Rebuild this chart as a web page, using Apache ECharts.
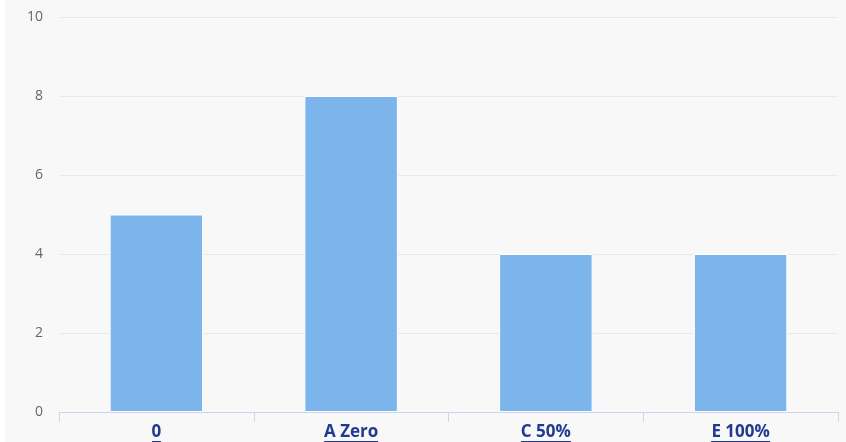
<!DOCTYPE html>
<html><head><meta charset="utf-8">
<script src="https://cdn.jsdelivr.net/npm/echarts@6/dist/echarts.min.js"></script>
<style>
html,body{margin:0;padding:0;background:#ffffff;}
#c{position:absolute;left:5px;top:0;width:841px;height:442px;}
</style></head>
<body><div id="c"></div>
<script>
const categories = ['0', 'A Zero', 'C 50%', 'E 100%'];
const values = [5, 8, 4, 4];
const yTicks = [0, 2, 4, 6, 8, 10];

// underline texture: transparent box with a line near its bottom
const ul = document.createElement('canvas');
ul.width = 4; ul.height = 22;
const g = ul.getContext('2d');
g.fillStyle = '#213a8f';
g.fillRect(0, 20, 4, 1);

const chart = echarts.init(document.getElementById('c'));
chart.setOption({
  backgroundColor: '#f8f8f8',
  animation: false,
  grid: { left: 54, right: 8, top: 17, bottom: 30, containLabel: false, outerBoundsMode: 'none' },
  xAxis: {
    type: 'category',
    data: categories,
    axisLine: { lineStyle: { color: '#ccd6eb' } },
    axisTick: { show: true, length: 10, lineStyle: { color: '#ccd6eb' } },
    axisLabel: {
      margin: 9,
      formatter: v => '{t|' + v + '}',
      rich: {
        t: { color: '#213a8f', fontSize: 17, fontWeight: 'bold', fontFamily: 'Open Sans',
             height: 22, lineHeight: 22, backgroundColor: { image: ul } }
      }
    }
  },
  yAxis: {
    type: 'value',
    min: yTicks[0], max: yTicks[yTicks.length - 1], interval: 2,
    axisLine: { show: false },
    axisTick: { show: false },
    splitLine: { lineStyle: { color: '#e9e9e9' } },
    axisLabel: { color: '#666666', fontSize: 14, fontFamily: 'Open Sans', margin: 16 }
  },
  series: [{
    type: 'bar',
    data: values,
    barWidth: '48%',
    itemStyle: { color: '#7cb5ec', borderColor: '#ffffff', borderWidth: 1 }
  }]
});
</script></body></html>
